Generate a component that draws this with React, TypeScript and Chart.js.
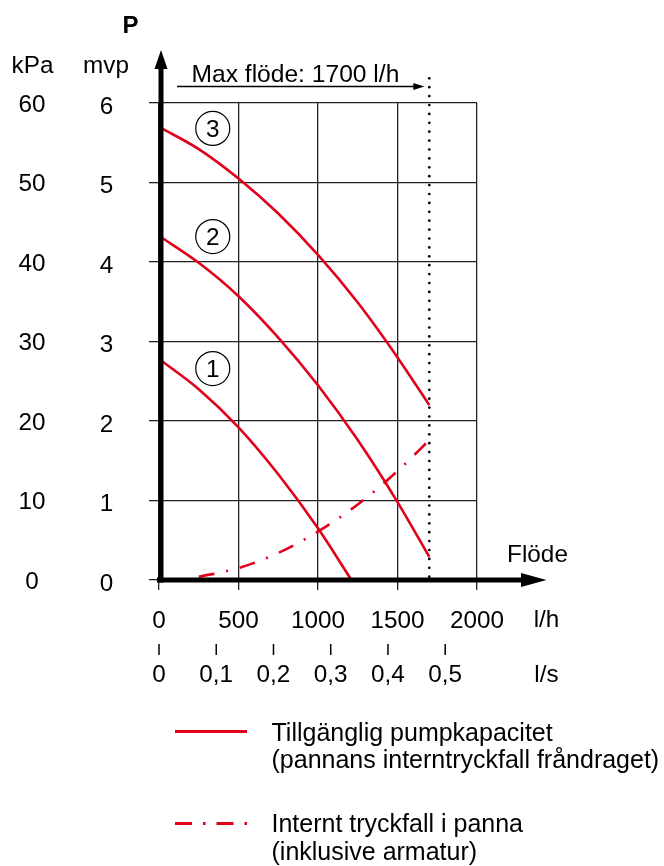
import { useEffect, useRef } from 'react';
import { Chart, registerables } from 'chart.js';

Chart.register(...registerables);

// ---- axis ticks ----
const flowTicksLh = [0, 500, 1000, 1500, 2000];
const flowTicksLs = [0, 0.1, 0.2, 0.3, 0.4, 0.5];
const flowTickLabelsLs = ['0', '0,1', '0,2', '0,3', '0,4', '0,5'];
const mvpTicks = [0, 1, 2, 3, 4, 5, 6];
const kPaTickLabels = ['0', '10', '20', '30', '40', '50', '60'];

// ---- series (flow l/h, pressure mvp) ----
const pumpFlow = [0, 250, 500, 750, 1000, 1250, 1500, 1700];
const pump3 = [5.7, 5.42, 5.05, 4.61, 4.09, 3.49, 2.8, 2.2];
const pump2 = [4.33, 3.99, 3.57, 3.05, 2.45, 1.76, 0.98, 0.29];
const pump1Flow = [0, 250, 500, 750, 1000, 1210];
const pump1 = [2.78, 2.4, 1.92, 1.33, 0.65, 0.0];
const lossFlow = [250, 500, 750, 1000, 1250, 1500, 1700];
const loss = [0.04, 0.15, 0.34, 0.61, 0.95, 1.37, 1.76];
const maxFlow = 1700;
const curveNames = ['1', '2', '3'];

const RED = '#e2001a';
const FONT = '"Liberation Sans", Arial, Helvetica, sans-serif';

const toPoints = (xs: number[], ys: number[]) => xs.map((v, i) => ({ x: v, y: ys[i] }));

const overlay = {
  id: 'overlay',
  afterDatasetsDraw(chart: any) {
    const { ctx } = chart;
    const xs = chart.scales.x;
    const ys = chart.scales.y;
    const X = (v: number) => xs.getPixelForValue(v);
    const Y = (v: number) => ys.getPixelForValue(v);
    ctx.save();
    ctx.fillStyle = '#000';
    ctx.strokeStyle = '#000';

    // dotted max-flow line
    const xm = X(maxFlow);
    for (let yy = Y(0) - 3.3; yy >= 72; yy -= 8.9) {
      ctx.beginPath();
      ctx.arc(xm, yy, 1.35, 0, Math.PI * 2);
      ctx.fill();
    }

    // thick axes
    const x0 = X(0) + 2;
    const y0 = Y(0);
    ctx.fillRect(x0 - 2.5, 68, 5, y0 + 2.5 - 68);
    ctx.beginPath();
    ctx.moveTo(x0, 50);
    ctx.lineTo(x0 - 6.5, 69);
    ctx.lineTo(x0 + 6.5, 69);
    ctx.closePath();
    ctx.fill();
    ctx.fillRect(X(0) - 2, y0 - 2.5, 522 - (X(0) - 2), 5);
    ctx.beginPath();
    ctx.moveTo(546.5, y0);
    ctx.lineTo(521, y0 - 7);
    ctx.lineTo(521, y0 + 7);
    ctx.closePath();
    ctx.fill();

    // max flow annotation
    ctx.lineWidth = 1.3;
    ctx.beginPath();
    ctx.moveTo(177, 86.5);
    ctx.lineTo(xm - 14, 86.5);
    ctx.stroke();
    ctx.beginPath();
    ctx.moveTo(xm - 5, 86.5);
    ctx.lineTo(xm - 16, 83);
    ctx.lineTo(xm - 16, 90);
    ctx.closePath();
    ctx.fill();

    ctx.font = `24.6px ${FONT}`;
    ctx.textBaseline = 'alphabetic';
    ctx.textAlign = 'left';
    ctx.fillText('Max flöde: 1700 l/h', 191.5, 82);

    // axis titles
    ctx.textAlign = 'center';
    ctx.font = `bold 24px ${FONT}`;
    ctx.fillText('P', 130.5, 33);
    ctx.font = `24.3px ${FONT}`;
    ctx.fillText('kPa', 32.5, 73);
    ctx.fillText('mvp', 106, 73);
    ctx.fillText('Flöde', 537.5, 562);
    ctx.fillText('l/h', 546.5, 627);
    ctx.fillText('l/s', 546.5, 682);

    // y tick labels
    mvpTicks.forEach((v, i) => {
      ctx.fillText(String(v), 106.5, Y(v) + 10.5);
      ctx.fillText(kPaTickLabels[i], 32, Y(v) + 8.5);
    });

    // x tick labels (l/h)
    flowTicksLh.forEach((v) => {
      ctx.fillText(String(v), X(v), 628);
    });

    // l/s secondary ticks
    ctx.lineWidth = 1.5;
    flowTicksLs.forEach((v, i) => {
      const px = X(v * 3600);
      ctx.beginPath();
      ctx.moveTo(px, 644);
      ctx.lineTo(px, 655);
      ctx.stroke();
      ctx.fillText(flowTickLabelsLs[i], px, 682);
    });

    // circled curve numbers
    const labelAnchors = [
      { x: 338, y: 2.66 },
      { x: 338, y: 4.32 },
      { x: 338, y: 5.68 },
    ];
    ctx.lineWidth = 1.2;
    curveNames.forEach((name, i) => {
      const cx = X(labelAnchors[i].x);
      const cy = Y(labelAnchors[i].y);
      ctx.beginPath();
      ctx.arc(cx, cy, 17, 0, Math.PI * 2);
      ctx.stroke();
      ctx.fillText(name, cx, cy + 8.6);
    });

    // legend
    ctx.strokeStyle = RED;
    ctx.lineWidth = 3;
    ctx.beginPath();
    ctx.moveTo(175, 731.5);
    ctx.lineTo(247, 731.5);
    ctx.stroke();
    ctx.setLineDash([17, 11, 2.5, 11]);
    ctx.beginPath();
    ctx.moveTo(175, 823.5);
    ctx.lineTo(247, 823.5);
    ctx.stroke();
    ctx.setLineDash([]);

    ctx.textAlign = 'left';
    ctx.fillStyle = '#000';
    ctx.font = `25px ${FONT}`;
    ctx.fillText('Tillgänglig pumpkapacitet', 271.5, 740.5);
    ctx.fillText('(pannans interntryckfall fråndraget)', 271.5, 768);
    ctx.fillText('Internt tryckfall i panna', 271.5, 832);
    ctx.fillText('(inklusive armatur)', 271.5, 859.5);

    ctx.restore();
  },
};

export default function App() {
  const ref = useRef<HTMLCanvasElement>(null);
  useEffect(() => {
    const gridOpts = { color: '#222', lineWidth: 1.3, tickLength: 10, drawTicks: true, tickColor: '#222' };
    const lineDs = (label: string, pts: any[], dash: number[] = []) => ({
      label,
      data: pts,
      borderColor: RED,
      borderWidth: 2.6,
      borderDash: dash,
      pointRadius: 0,
      fill: false,
      cubicInterpolationMode: 'monotone' as const,
    });
    const chart = new Chart(ref.current as HTMLCanvasElement, {
      type: 'line',
      data: {
        datasets: [
          lineDs('Pump 3', toPoints(pumpFlow, pump3)),
          lineDs('Pump 2', toPoints(pumpFlow, pump2)),
          lineDs('Pump 1', toPoints(pump1Flow, pump1)),
          lineDs('Internt tryckfall', toPoints(lossFlow, loss), [16, 12, 2, 12]),
        ],
      },
      options: {
        animation: false,
        responsive: false,
        devicePixelRatio: 1,
        layout: { padding: { left: 149, right: 187, top: 103, bottom: 276 } },
        plugins: { legend: { display: false }, tooltip: { enabled: false } },
        scales: {
          x: {
            type: 'linear',
            min: 0,
            max: 2000,
            ticks: { display: false, stepSize: 500 },
            grid: gridOpts,
            border: { display: false },
          },
          y: {
            type: 'linear',
            min: 0,
            max: 6,
            ticks: { display: false, stepSize: 1 },
            grid: gridOpts,
            border: { display: false },
          },
        },
      },
      plugins: [overlay],
    } as any);
    return () => chart.destroy();
  }, []);
  return (
    <div style={{ position: 'absolute', left: 0, top: 0, width: 664, height: 866 }}>
      <canvas ref={ref} width={664} height={866} style={{ display: 'block', width: 664, height: 866 }} />
    </div>
  );
}
